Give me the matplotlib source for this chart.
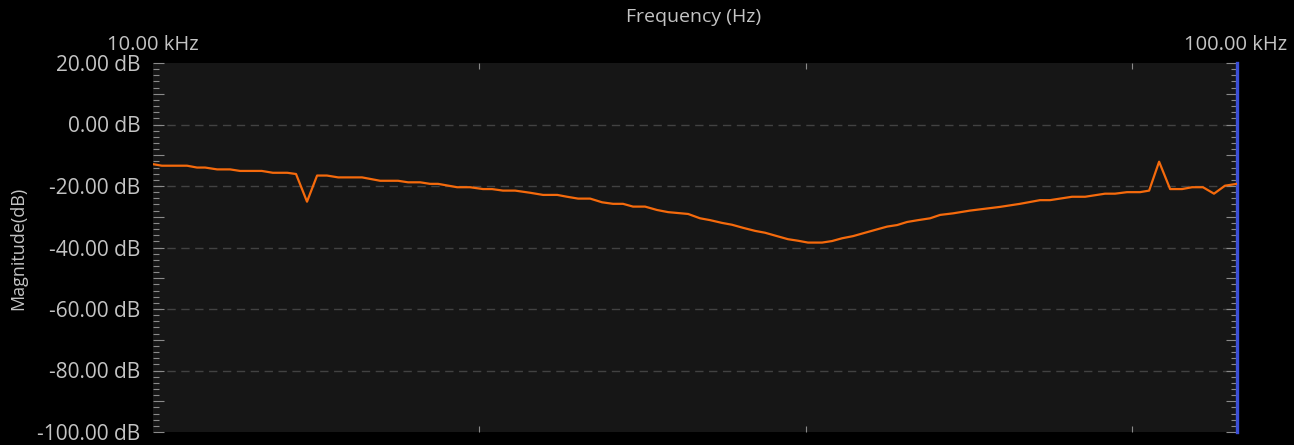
import matplotlib
matplotlib.use("Agg")
import matplotlib.pyplot as plt
from matplotlib.ticker import FixedLocator, NullLocator, MultipleLocator, FuncFormatter

# Magnitude response
freq_hz = [
    10000, 10190, 10750, 10980, 11170, 11460, 11780, 12030, 12600, 12900,
    13300, 13550, 13870, 14170, 14470, 14820, 15590, 16200, 16830, 17190,
    17640, 18010, 18320, 19080, 19610, 20160, 20550, 21030, 21580, 22280,
    22900, 23600, 24100, 24670, 25310, 25960, 26570, 27140, 27720, 28440,
    29170, 29870, 31170, 31960, 32650, 33490, 34210, 35020, 35930, 36700,
    37640, 38530, 39360, 40200, 41420, 42310, 43220, 44240, 45380, 46560,
    47560, 48580, 49620, 50800, 52110, 53230, 54700, 56710, 60430, 63070,
    65810, 67220, 70440, 72420, 75550, 77170, 79170, 81400, 82970, 84750,
    86760, 88990, 90890, 93030, 95230, 97480, 100000,
]
magnitude_db = [
    -12.9, -13.4, -13.4, -14.0, -14.0, -14.6, -14.6, -15.1, -15.1, -15.7,
    -15.7, -16.1, -25.1, -16.6, -16.6, -17.2, -17.2, -18.3, -18.3, -18.8,
    -18.8, -19.3, -19.3, -20.4, -20.4, -21.0, -21.0, -21.5, -21.5, -22.2,
    -22.9, -22.9, -23.5, -24.1, -24.1, -25.3, -25.8, -25.8, -26.7, -26.7,
    -27.8, -28.5, -29.1, -30.5, -31.1, -32.0, -32.6, -33.6, -34.6, -35.2,
    -36.3, -37.3, -37.8, -38.4, -38.4, -37.9, -37.0, -36.3, -35.2, -34.1,
    -33.2, -32.7, -31.7, -31.1, -30.5, -29.4, -28.9, -28.0, -26.8, -25.8,
    -24.6, -24.6, -23.5, -23.5, -22.5, -22.5, -22.0, -22.0, -21.5, -12.1,
    -21.0, -21.0, -20.4, -20.4, -22.5, -19.9, -19.3,
]
x_ticks = [20000, 40000, 80000]
grid_db = [0, -20, -40, -60, -80]

text_col = "#c4c4c4"
tick_col = "#8a8a8a"
plt.rcParams["font.family"] = ["Open Sans", "DejaVu Sans"]

fig = plt.figure(figsize=(12.94, 4.45), dpi=100, facecolor="black")
ax = fig.add_axes([153 / 1294, 13 / 445, 1084 / 1294, 369 / 445])
ax.set_facecolor("#161616")

for g in grid_db:
    ax.axhline(g, color="#424242", lw=1.0, ls=(0, (6, 4)), zorder=1)

ax.plot(freq_hz, magnitude_db, color="#f56a0c", lw=1.6, zorder=3)

ax.set_xscale("log")
ax.set_xlim(10000, 100000)
ax.set_ylim(-100, 20)

ax.xaxis.set_major_locator(FixedLocator(x_ticks))
ax.xaxis.set_minor_locator(NullLocator())
ax.xaxis.set_major_formatter(FuncFormatter(lambda v, p: ""))
ax.tick_params(axis="x", which="both", direction="in", top=True, bottom=True,
               length=4, width=0.8, color=tick_col)

ax.yaxis.set_major_locator(MultipleLocator(10))
ax.yaxis.set_minor_locator(MultipleLocator(2))
ax.yaxis.set_major_formatter(
    FuncFormatter(lambda v, p: f"{v:.2f} dB" if round(v) % 20 == 0 else ""))
ax.tick_params(axis="y", which="major", direction="in", left=True, right=True,
               length=8, width=0.8, color=tick_col, labelsize=15,
               labelcolor=text_col, pad=9)
ax.tick_params(axis="y", which="minor", direction="in", left=True, right=True,
               length=4, width=0.8, color=tick_col)

for side in ["top", "bottom", "left"]:
    ax.spines[side].set_visible(False)
ax.spines["right"].set_color("#3b4fd6")
ax.spines["right"].set_linewidth(2.4)

fig.text(694 / 1294, 1 - 17 / 445, "Frequency (Hz)", color=text_col,
         fontsize=14, ha="center", va="center")
fig.text(153 / 1294, 1 - 45 / 445, "10.00 kHz", color=text_col,
         fontsize=14.5, ha="center", va="center")
fig.text(1236 / 1294, 1 - 45 / 445, "100.00 kHz", color=text_col,
         fontsize=14.5, ha="center", va="center")
fig.text(18 / 1294, 1 - 248 / 445, "Magnitude(dB)", color=text_col,
         fontsize=13, ha="center", va="center", rotation=90)

fig.savefig("out.png", dpi=100, facecolor="black")
